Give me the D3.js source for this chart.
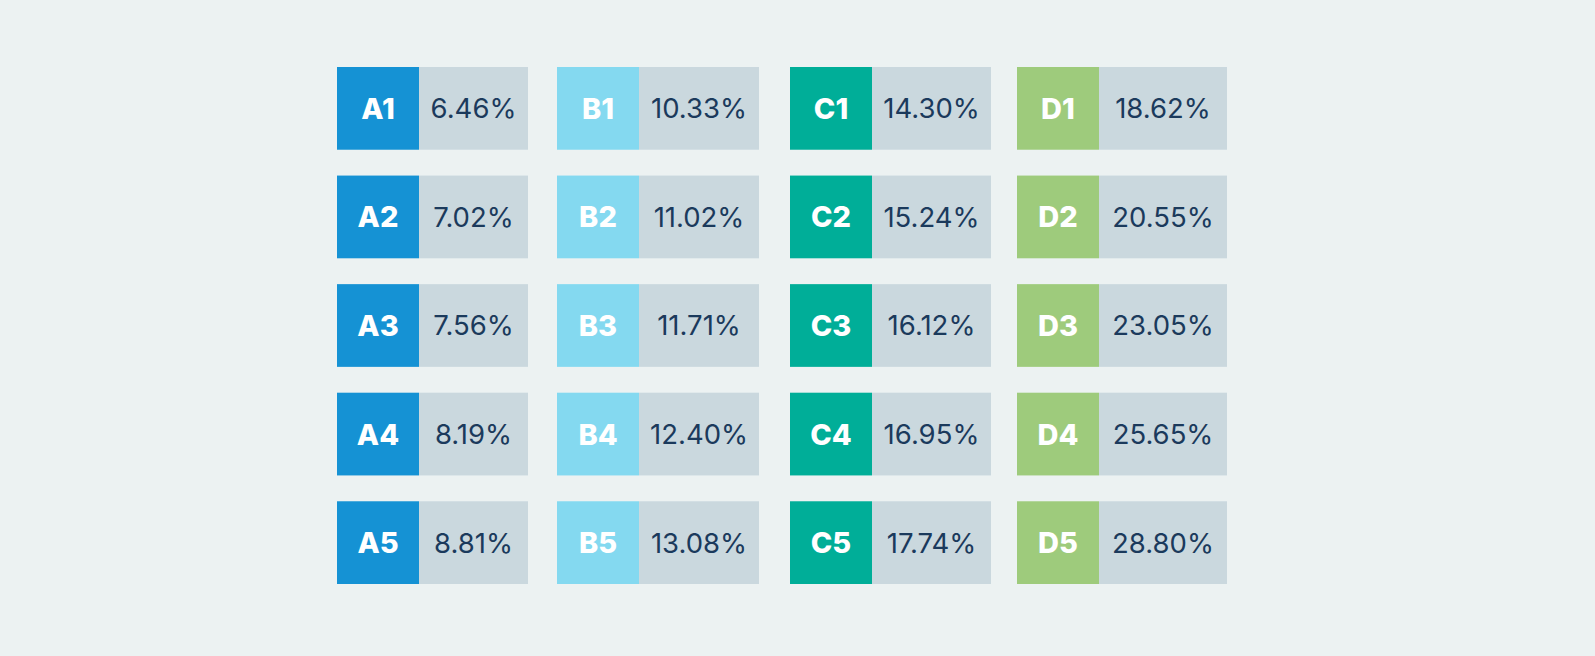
<!DOCTYPE html>
<html>
<head>
<meta charset="utf-8">
<script src="https://cdn.jsdelivr.net/npm/d3@7"></script>
<style>
  body { margin: 0; background: #ecf2f2; }
  text { font-family: Inter, "Open Sans", sans-serif; }
</style>
</head>
<body>
<div id="chart"></div>
<script>
// Data
const groups = ["A", "B", "C", "D"];
const rows = ["1", "2", "3", "4", "5"];
const values = {
  A: [6.46, 7.02, 7.56, 8.19, 8.81],
  B: [10.33, 11.02, 11.71, 12.40, 13.08],
  C: [14.30, 15.24, 16.12, 16.95, 17.74],
  D: [18.62, 20.55, 23.05, 25.65, 28.80]
};
const colors = ["#1592d4", "#84d9f0", "#00ae98", "#9ecb7c"];

// Layout
const width = 1595, height = 656;
const colStart = [337, 557, 790, 1017];
const valueWidth = [109, 120, 119, 128];
const labelWidth = 82;

const svg = d3.select("#chart").append("svg")
    .attr("width", width)
    .attr("height", height);

svg.append("rect").attr("width", width).attr("height", height).attr("fill", "#ecf2f2");

const y = d3.scaleBand()
    .domain(rows)
    .range([67, 584])
    .paddingInner(0.238)
    .paddingOuter(0);

const cells = [];
groups.forEach((g, gi) => {
  rows.forEach((r, ri) => {
    cells.push({ g, gi, r, v: values[g][ri] });
  });
});

const cell = svg.selectAll(".cell")
  .data(cells)
  .enter()
  .append("g")
  .attr("class", "cell")
  .attr("transform", d => `translate(${colStart[d.gi]},${y(d.r)})`);

cell.append("rect")
  .attr("width", labelWidth)
  .attr("height", y.bandwidth())
  .attr("fill", d => colors[d.gi]);

cell.append("rect")
  .attr("x", labelWidth)
  .attr("width", d => valueWidth[d.gi])
  .attr("height", y.bandwidth())
  .attr("fill", "#cad8de");

cell.append("text")
  .attr("x", labelWidth / 2)
  .attr("y", y.bandwidth() / 2)
  .attr("dy", "0.36em")
  .attr("text-anchor", "middle")
  .attr("fill", "#fff")
  .attr("font-size", 29)
  .attr("font-weight", 800)
  .text(d => d.g + d.r);

cell.append("text")
  .attr("x", d => labelWidth + valueWidth[d.gi] / 2)
  .attr("y", y.bandwidth() / 2)
  .attr("dy", "0.36em")
  .attr("text-anchor", "middle")
  .attr("fill", "#1b3a5c")
  .attr("font-size", 27.5)
  .text(d => d.v.toFixed(2) + "%");
</script>
</body>
</html>
